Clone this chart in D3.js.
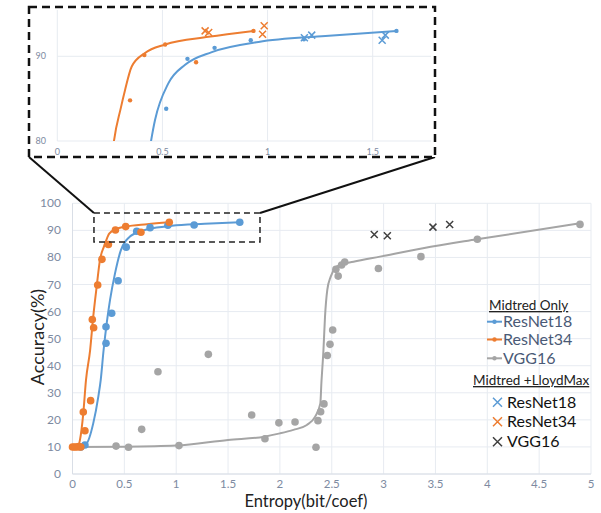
<!DOCTYPE html>
<html><head><meta charset="utf-8">
<script src="https://cdn.jsdelivr.net/npm/d3@7"></script>
<style>body{margin:0;background:#fff}svg{display:block}text{font-family:Lato,"Open Sans",sans-serif}</style>
</head><body><svg id="c" width="601" height="513"></svg>
<script>
// ---- data (entropy bit/coef, accuracy %) ----
const r18Points = [[0.08,10.0],[0.12,10.7],[0.323,48.3],[0.323,54.4],[0.378,59.4],[0.44,71.4],[0.518,83.8],[0.619,89.7],[0.748,91.0],[0.92,91.9],[1.173,92.0],[1.613,93.0]];
const r34Points = [[0.0,10.0],[0.02,10.0],[0.04,10.0],[0.06,10.1],[0.08,10.0],[0.104,22.9],[0.12,16.0],[0.175,27.1],[0.191,57.1],[0.204,54.0],[0.243,69.8],[0.284,79.3],[0.346,84.8],[0.414,90.15],[0.513,91.4],[0.66,89.3],[0.933,93.0]];
const vggPoints = [[0.42,10.3],[0.54,9.9],[0.667,16.5],[0.824,37.8],[1.027,10.5],[1.31,44.2],[1.728,21.8],[1.856,13.0],[1.99,18.9],[2.146,19.2],[2.348,9.9],[2.367,19.7],[2.393,23.0],[2.425,25.9],[2.457,43.8],[2.483,47.9],[2.509,53.2],[2.54,75.6],[2.562,73.1],[2.595,77.2],[2.625,78.3],[2.95,75.9],[3.36,80.3],[3.904,86.7],[4.894,92.2]];
const r18Trend = [[0.0,9.8],[0.08,10.3],[0.136,11.3],[0.2,18.7],[0.249,28.6],[0.272,34.7],[0.3,45.8],[0.33,55.7],[0.362,64.3],[0.41,74.1],[0.465,82.5],[0.528,86.8],[0.608,89.0],[0.735,90.5],[0.957,91.7],[1.275,92.4],[1.613,93.0]];
const r34Trend = [[0.0,10.0],[0.05,10.0],[0.072,12.6],[0.104,22.4],[0.13,34.7],[0.17,45.8],[0.2,58.1],[0.233,69.2],[0.265,79.1],[0.303,84.0],[0.322,86.0],[0.354,88.8],[0.417,90.4],[0.513,91.4],[0.719,92.3],[0.933,93.0]];
const vggTrend = [[0.0,10.0],[0.5,10.1],[1.0,10.5],[1.5,12.6],[1.85,13.8],[2.0,15.0],[2.13,16.3],[2.26,18.1],[2.34,21.2],[2.39,26.1],[2.40,33.5],[2.42,45.8],[2.435,58.1],[2.457,68.0],[2.49,72.9],[2.53,76.0],[2.58,77.2],[2.71,78.4],[2.965,80.3],[3.38,83.4],[3.9,86.7],[4.894,92.6]];
const r18Lloyd = [[1.175,92.2],[1.21,92.5],[1.545,91.9],[1.56,92.5]];
const r34Lloyd = [[0.703,93.0],[0.72,92.8],[0.976,92.6],[0.984,93.6]];
const vggLloyd = [[2.91,88.5],[3.036,88.0],[3.476,91.2],[3.637,92.2]];
const xTicks = [0,0.5,1,1.5,2,2.5,3,3.5,4,4.5,5];
const yTicks = [0,10,20,30,40,50,60,70,80,90,100];
const insetXTicks = [0,0.5,1,1.5];
const insetYTicks = [80,90];
const zoomBox = {x0:0.207, x1:1.808, y0:85.7, y1:96.4};
const legendLines = ["ResNet18","ResNet34","VGG16"];
const legendCross = ["ResNet18","ResNet34","VGG16"];

const C = {r18:"#5b9bd5", r34:"#ed7d31", vgg:"#a5a5a5", cross:"#404040", grid:"#e7ebf1", tick:"#7d8aa1"};
const svg = d3.select("#c");

// ---- main chart ----
const x = d3.scaleLinear().domain([0,5]).range([72.5,591]);
const y = d3.scaleLinear().domain([0,100]).range([474,203.3]);
const g = svg.append("g");
g.selectAll(".vg").data(xTicks).join("line").attr("x1",d=>x(d)).attr("x2",d=>x(d)).attr("y1",y(0)).attr("y2",y(100)).attr("stroke",C.grid).attr("stroke-width",1);
g.selectAll(".hg").data(yTicks).join("line").attr("x1",x(0)).attr("x2",x(5)).attr("y1",d=>y(d)).attr("y2",d=>y(d)).attr("stroke",C.grid).attr("stroke-width",1);
g.append("line").attr("x1",x(0)).attr("x2",x(0)).attr("y1",y(0)).attr("y2",y(100)).attr("stroke","#d9dee6");
g.append("line").attr("x1",x(0)).attr("x2",x(5)).attr("y1",y(0)).attr("y2",y(0)).attr("stroke","#d9dee6");
g.selectAll(".xt").data(xTicks).join("text").attr("x",d=>x(d)).attr("y",488).attr("text-anchor","middle").attr("font-size",11.5).attr("fill",C.tick).text(d=>d);
g.selectAll(".yt").data(yTicks).join("text").attr("x",61).attr("y",d=>y(d)+4).attr("text-anchor","end").attr("font-size",12).attr("fill",C.tick).text(d=>d);
g.append("text").attr("transform","translate(44,337) rotate(-90)").attr("text-anchor","middle").attr("font-size",18).attr("fill","#222").text("Accuracy(%)");
g.append("text").attr("x",306).attr("y",507).attr("text-anchor","middle").attr("font-size",16.5).attr("fill","#222").text("Entropy(bit/coef)");

const line = d3.line().x(d=>x(d[0])).y(d=>y(d[1])).curve(d3.curveMonotoneX);
[[vggTrend,C.vgg],[r18Trend,C.r18],[r34Trend,C.r34]].forEach(([t,c])=>{
  g.append("path").attr("d",line(t)).attr("fill","none").attr("stroke",c).attr("stroke-width",2);
});
[[vggPoints,C.vgg],[r18Points,C.r18],[r34Points,C.r34]].forEach(([p,c])=>{
  g.selectAll(null).data(p).join("circle").attr("cx",d=>x(d[0])).attr("cy",d=>y(d[1])).attr("r",3.8).attr("fill",c);
});
function cross(sel,data,sx,sy,s,c,w){
  sel.selectAll(null).data(data).join("path")
    .attr("d",d=>{const X=sx(d[0]),Y=sy(d[1]);return `M${X-s},${Y-s}L${X+s},${Y+s}M${X-s},${Y+s}L${X+s},${Y-s}`;})
    .attr("stroke",c).attr("stroke-width",w).attr("fill","none");
}
cross(g,vggLloyd,x,y,3.5,C.cross,1.5);

// zoom box
g.append("rect").attr("x",x(zoomBox.x0)).attr("y",y(zoomBox.y1)).attr("width",x(zoomBox.x1)-x(zoomBox.x0)).attr("height",y(zoomBox.y0)-y(zoomBox.y1))
 .attr("fill","none").attr("stroke","#222").attr("stroke-width",1.5).attr("stroke-dasharray","6,4");

// ---- inset ----
const ix = d3.scaleLinear().domain([0,1.5]).range([57.3,372.7]);
const iy = d3.scaleLinear().domain([80,90]).range([141,56.3]);
const ib = {l:29,t:7,r:435,b:157};
g.append("line").attr("x1",ib.l).attr("y1",ib.b).attr("x2",x(zoomBox.x0)).attr("y2",y(zoomBox.y1)).attr("stroke","#111").attr("stroke-width",2);
g.append("line").attr("x1",ib.r).attr("y1",ib.b).attr("x2",x(zoomBox.x1)).attr("y2",y(zoomBox.y1)).attr("stroke","#111").attr("stroke-width",2);
const ig = svg.append("g");
ig.append("rect").attr("x",ib.l).attr("y",ib.t).attr("width",ib.r-ib.l).attr("height",ib.b-ib.t).attr("fill","#fff");
ig.append("clipPath").attr("id","ic").append("rect").attr("x",ix(0)).attr("y",ib.t+2).attr("width",ib.r-4-ix(0)).attr("height",iy(80)-ib.t-2);
ig.selectAll(".ivg").data(insetXTicks).join("line").attr("x1",d=>ix(d)).attr("x2",d=>ix(d)).attr("y1",iy(80)).attr("y2",ib.t+3).attr("stroke",C.grid);
ig.selectAll(".ihg").data(insetYTicks).join("line").attr("x1",ix(0)).attr("x2",ib.r-4).attr("y1",d=>iy(d)).attr("y2",d=>iy(d)).attr("stroke",C.grid);
ig.selectAll(".ixt").data(insetXTicks).join("text").attr("x",d=>ix(d)).attr("y",155).attr("text-anchor","middle").attr("font-size",9).attr("fill",C.tick).text(d=>d);
ig.selectAll(".iyt").data(insetYTicks).join("text").attr("x",46).attr("y",d=>iy(d)+3).attr("text-anchor","end").attr("font-size",9).attr("fill",C.tick).text(d=>d);
const ic = ig.append("g").attr("clip-path","url(#ic)");
const iline = d3.line().x(d=>ix(d[0])).y(d=>iy(d[1])).curve(d3.curveMonotoneX);
[[r18Trend,C.r18],[r34Trend,C.r34]].forEach(([t,c])=>{
  ic.append("path").attr("d",iline(t)).attr("fill","none").attr("stroke",c).attr("stroke-width",2);
});
[[r18Points,C.r18],[r34Points,C.r34]].forEach(([p,c])=>{
  ic.selectAll(null).data(p).join("circle").attr("cx",d=>ix(d[0])).attr("cy",d=>iy(d[1])).attr("r",2.2).attr("fill",c);
});
cross(ic,r18Lloyd,ix,iy,3.5,C.r18,1.5);
cross(ic,r34Lloyd,ix,iy,3.5,C.r34,1.5);
ig.append("rect").attr("x",ib.l).attr("y",ib.t).attr("width",ib.r-ib.l).attr("height",ib.b-ib.t)
 .attr("fill","none").attr("stroke","#111").attr("stroke-width",2.5).attr("stroke-dasharray","8,5");

// ---- legend ----
const lg = svg.append("g");
lg.append("text").attr("x",489).attr("y",310).attr("font-size",13.5).attr("fill","#222").attr("text-decoration","underline").text("Midtred Only");
const lc = [C.r18,C.r34,C.vgg];
const ly1 = [321.7,339.5,358.3];
legendLines.forEach((n,i)=>{
  lg.append("line").attr("x1",487).attr("x2",502).attr("y1",ly1[i]).attr("y2",ly1[i]).attr("stroke",lc[i]).attr("stroke-width",2);
  lg.append("circle").attr("cx",494.5).attr("cy",ly1[i]).attr("r",2.2).attr("fill",lc[i]);
  lg.append("text").attr("x",503).attr("y",ly1[i]+5.5).attr("font-size",16).attr("fill","#4a5a76").text(n);
});
lg.append("text").attr("x",473).attr("y",385).attr("font-size",13.5).attr("fill","#222").attr("text-decoration","underline").text("Midtred +LloydMax");
const ly2 = [402.3,421.7,441.7];
const cc = [C.r18,C.r34,C.cross];
legendCross.forEach((n,i)=>{
  const X=497.5,Y=ly2[i],s=4.5;
  lg.append("path").attr("d",`M${X-s},${Y-s}L${X+s},${Y+s}M${X-s},${Y+s}L${X+s},${Y-s}`).attr("stroke",cc[i]).attr("stroke-width",1.5);
  lg.append("text").attr("x",507).attr("y",Y+5.5).attr("font-size",16).attr("fill","#111").text(n);
});
</script></body></html>
